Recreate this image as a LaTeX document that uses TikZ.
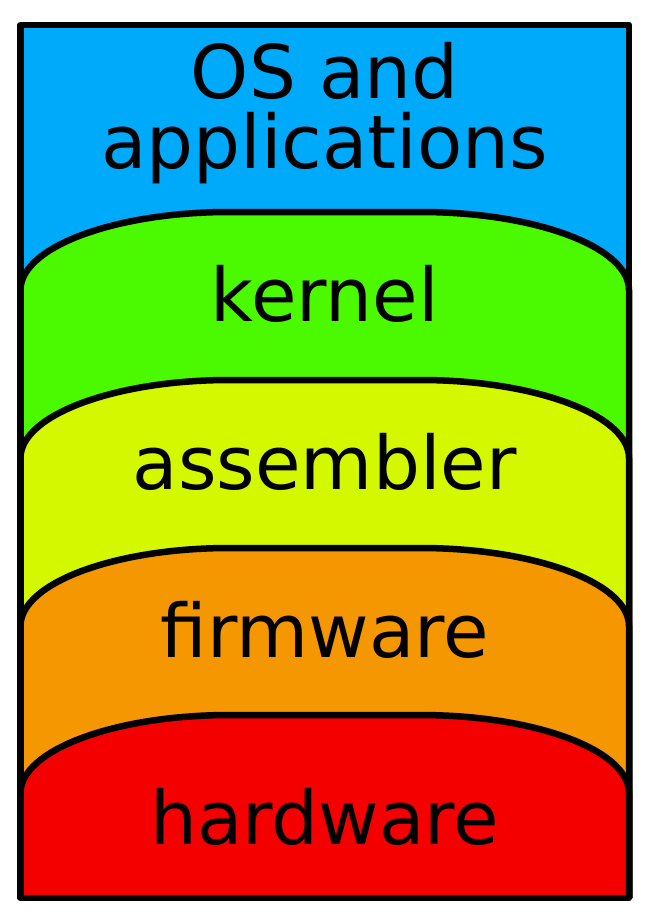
\documentclass[tikz,border=0pt]{standalone}
\usepackage{fontspec}
\setmainfont{DejaVu Sans}
\usepackage{tikz}
\usepackage{xcolor}

\definecolor{osblue}{RGB}{0,170,250}
\definecolor{kernelgreen}{RGB}{76,250,0}
\definecolor{asmyellow}{RGB}{212,248,0}
\definecolor{fwornage}{RGB}{245,151,0}
\definecolor{hwred}{RGB}{245,0,0}

\begin{document}
\begin{tikzpicture}[x=1pt, y=-1pt, line join=round,
    layer/.style={draw=black, line width=6.5pt},
    caption/.style={anchor=base, align=center, text=black,
      font=\fontsize{74}{70}\selectfont}]
  \useasboundingbox (0, 0) rectangle (650, 923);

  \fill[osblue] (20.5, 25) rectangle (629, 898);
  \draw[layer, fill=kernelgreen] (20.5, 898) -- (20.5, 290) .. controls (20.5, 247) and (115, 212) .. (229.5, 212) -- (420, 212) .. controls (535, 212) and (629, 247) .. (629, 290) -- (629, 898);
  \draw[layer, fill=asmyellow] (20.5, 898) -- (20.5, 458) .. controls (20.5, 415) and (115, 380) .. (229.5, 380) -- (420, 380) .. controls (535, 380) and (629, 415) .. (629, 458) -- (629, 898);
  \draw[layer, fill=fwornage] (20.5, 898) -- (20.5, 626) .. controls (20.5, 583) and (115, 548) .. (229.5, 548) -- (420, 548) .. controls (535, 548) and (629, 583) .. (629, 626) -- (629, 898);
  \draw[layer, fill=hwred] (20.5, 898) -- (20.5, 793) .. controls (20.5, 750) and (115, 715) .. (229.5, 715) -- (420, 715) .. controls (535, 715) and (629, 750) .. (629, 793) -- (629, 898);
  \draw[layer] (20.5, 25) rectangle (629, 898);

  \node[caption] (osapp) at (324.75, 168) {OS and\\applications};
  \node[caption] (kernel) at (324.75, 321) {kernel};
  \node[caption] (assembler) at (324.75, 489) {assembler};
  \node[caption] (firmware) at (324.75, 657) {firmware};
  \node[caption] (hardware) at (324.75, 844) {hardware};
\end{tikzpicture}
\end{document}
